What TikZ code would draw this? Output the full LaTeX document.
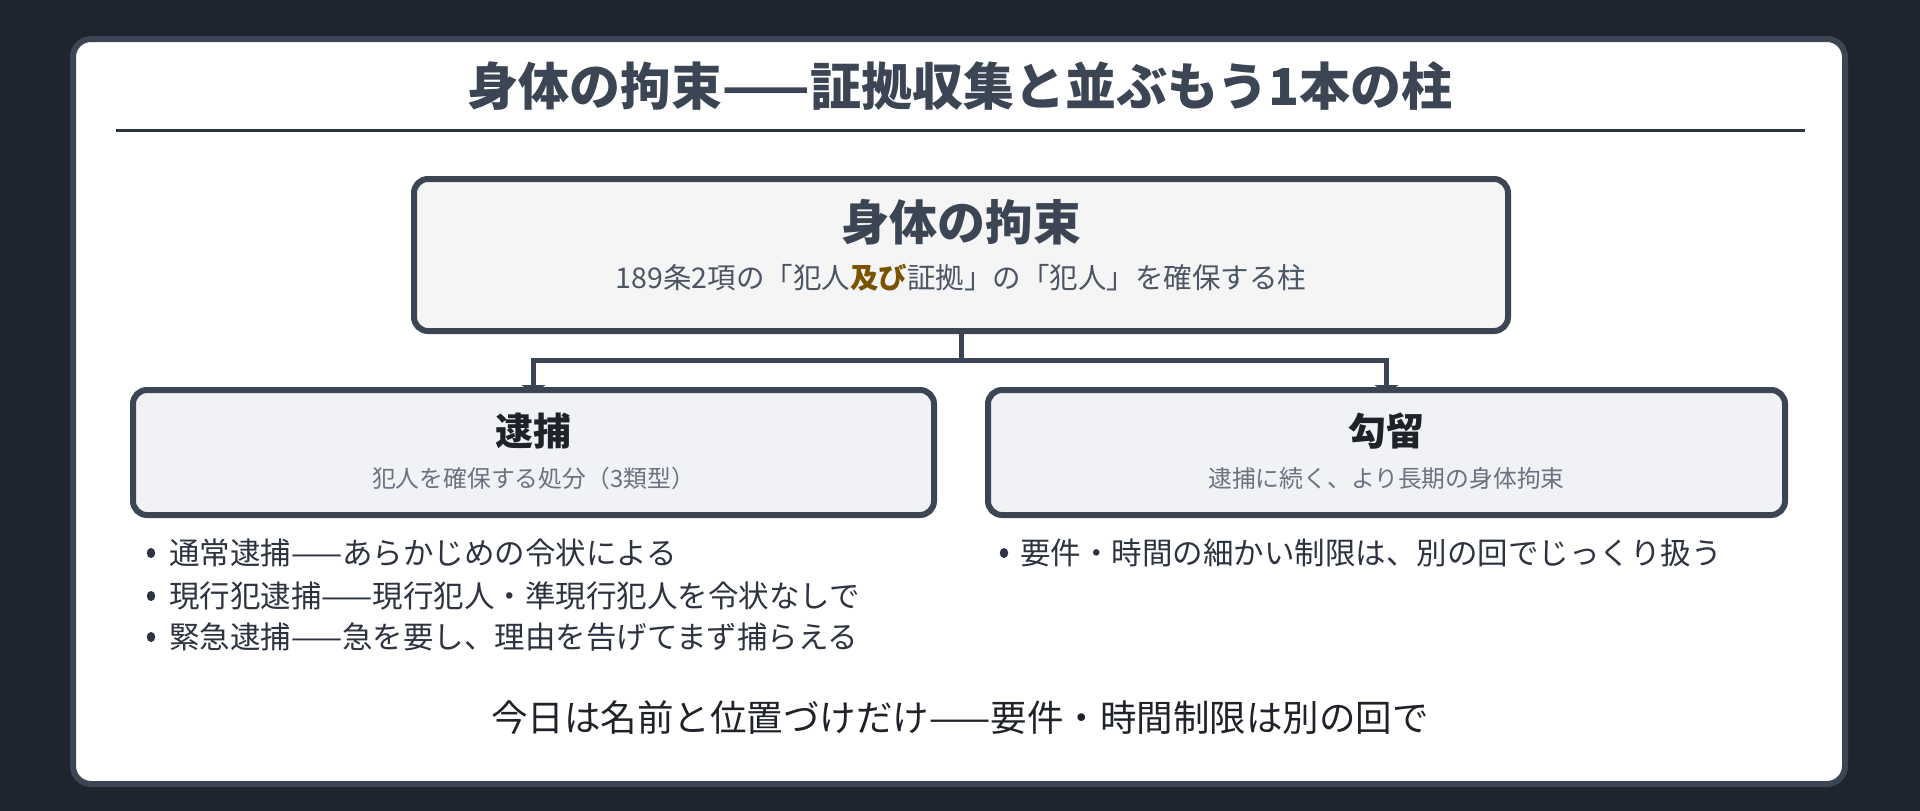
\documentclass[tikz,border=0pt]{standalone}
\usepackage{fontspec}
\setmainfont{Noto Sans CJK JP}
\usetikzlibrary{arrows.meta,shapes.geometric}
\definecolor{bgdark}{HTML}{1E252F}
\definecolor{slate}{HTML}{3B4554}
\definecolor{rulec}{HTML}{2D3340}
\definecolor{topfill}{HTML}{F5F5F5}
\definecolor{childfill}{HTML}{F0F2F5}
\definecolor{subgray}{HTML}{4B5563}
\definecolor{childsub}{HTML}{6B7280}
\definecolor{inkdark}{HTML}{1F2329}
\definecolor{brownhl}{HTML}{7A5300}
\pgfdeclarelayer{cardlayer}
\pgfdeclarelayer{connlayer}
\pgfsetlayers{cardlayer,connlayer,main}
\begin{document}
\begin{tikzpicture}[x=1pt,y=-1pt,
  boxstyle/.style={draw=slate, line width=6pt, rounded corners=14pt, outer sep=0pt, inner sep=0pt},
  childbox/.style={boxstyle, fill=childfill, minimum width=801pt, minimum height=125pt},
  txt/.style={inner sep=0pt, outer sep=0pt},
  childhead/.style={txt, text=inkdark, font=\fontsize{38}{46}\selectfont\bfseries},
  childsubt/.style={txt, text=childsub, font=\fontsize{23.8}{28}\selectfont},
  bullettxt/.style={txt, anchor=west, text=rulec, font=\fontsize{30.5}{36}\selectfont},
  bulletdot/.style={ellipse, fill=rulec, inner sep=0pt, minimum width=8.5pt, minimum height=10pt},
  conn/.style={draw=slate, line width=5pt, -{Triangle[length=8pt,width=24pt]}, shorten >=-3pt}
]
\useasboundingbox (0,0) rectangle (1920,811);
\begin{pgfonlayer}{cardlayer}
  \fill[bgdark] (0,0) rectangle (1920,811);
  \node[draw=slate, fill=white, line width=6pt, rounded corners=18pt, inner sep=0pt,
        minimum width=1772pt, minimum height=745pt] (card) at (959,411.5) {};
\end{pgfonlayer}

% title and rule
\node[txt, text=slate, font=\fontsize{51}{60}\selectfont\bfseries] (title) at (960,86)
  {身体の拘束——証拠収集と並ぶもう1本の柱};
\coordinate (ruleL) at (116,130);
\coordinate (ruleR) at (1805,130);
\draw[rulec, line width=3pt] (ruleL) -- (ruleR);

% top box
\node[boxstyle, fill=topfill, minimum width=1094pt, minimum height=152pt] (top) at (961,255) {};
\node[txt, text=slate, font=\fontsize{48}{56}\selectfont\bfseries] (toph) at (961,222) {身体の拘束};
\node[txt, text=subgray, font=\fontsize{28.5}{33}\selectfont] (tops) at (961,278)
  {189条2項の「犯人{\color{brownhl}\bfseries 及び}証拠」の「犯人」を確保する柱};

% child boxes
\node[childbox] (arrest) at (533.5,452.5) {};
\node[childhead] (arresth) at (533.5,431) {逮捕};
\node[childsubt] (arrests) at (533.5,478) {犯人を確保する処分（3類型）};

\node[childbox, minimum width=797pt] (detain) at (1386.5,452.5) {};
\node[childhead] (detainh) at (1386.5,431) {勾留};
\node[childsubt] (detains) at (1386.5,478) {逮捕に続く、より長期の身体拘束};

% connectors
\path (top.south) ++(0,29) coordinate (split);
\begin{pgfonlayer}{connlayer}
  \draw[conn] (top.south) -- (split) -| (arrest.north);
  \draw[conn] (split) -| (detain.north);
\end{pgfonlayer}

% bullets left
\node[bulletdot] (d1) at (151,553) {};
\node[bullettxt] (l1) at (169,553) {通常逮捕——あらかじめの令状による};
\node[bulletdot] (d2) at (151,596) {};
\node[bullettxt] (l2) at (169,596) {現行犯逮捕——現行犯人・準現行犯人を令状なしで};
\node[bulletdot] (d3) at (151,637) {};
\node[bullettxt] (l3) at (169,637) {緊急逮捕——急を要し、理由を告げてまず捕らえる};

% bullet right
\node[bulletdot] (d4) at (1004,553) {};
\node[bullettxt] (r1) at (1020,553) {要件・時間の細かい制限は、別の回でじっくり扱う};

% footer
\node[txt, text=inkdark, font=\fontsize{36.5}{43}\selectfont] (footer) at (960,718)
  {今日は名前と位置づけだけ——要件・時間制限は別の回で};
\end{tikzpicture}
\end{document}
